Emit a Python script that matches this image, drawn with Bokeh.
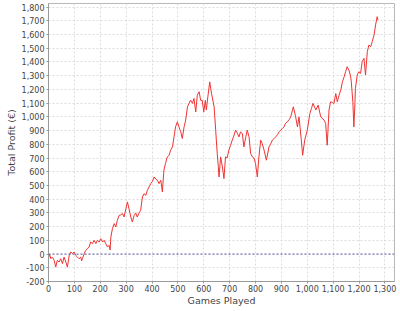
from bokeh.plotting import figure
from bokeh.models import Range1d, FixedTicker, NumeralTickFormatter, Span
from bokeh.embed import file_html
from bokeh.resources import INLINE

games = [0, 4, 9, 15, 22, 28, 34, 41, 47, 54, 60, 67, 73, 80, 86, 93, 99, 105, 112, 118,
         125, 128, 131, 138, 144, 150, 157, 163, 170, 176, 183, 189, 196, 202, 209, 215,
         221, 228, 234, 238, 241, 247, 254, 260, 266, 273, 279, 286, 292, 299, 305, 311,
         318, 324, 331, 337, 343, 350, 356, 363, 369, 376, 382, 389, 395, 402, 408, 415,
         421, 427, 434, 440, 446, 452, 459, 466, 472, 479, 485, 491, 498, 504, 511, 517,
         524, 530, 537, 543, 549, 556, 562, 569, 575, 582, 588, 594, 600, 606, 610, 616,
         623, 630, 640, 646, 652, 656, 659, 665, 672, 678, 684, 690, 697, 703, 710, 716,
         723, 730, 736, 742, 749, 755, 762, 768, 775, 781, 788, 794, 800, 807, 813, 820,
         826, 833, 842, 852, 858, 865, 871, 878, 885, 891, 897, 904, 910, 916, 923, 930,
         936, 946, 955, 962, 968, 977, 982, 990, 1000, 1010, 1016, 1022, 1033, 1042, 1052,
         1065, 1071, 1077, 1084, 1090, 1097, 1103, 1110, 1116, 1123, 1130, 1136, 1142,
         1148, 1154, 1161, 1167, 1170, 1176, 1180, 1183, 1186, 1193, 1199, 1206, 1212,
         1219, 1225, 1232, 1238, 1245, 1251, 1258, 1264, 1270, 1273]
profit = [-30, 0, -34, -22, -46, -95, -46, -58, -34, -70, -22, -58, -95, -10, 15, 3, 15, -10, -22, -34,
          -22, -50, -34, 3, 27, 39, 51, 88, 76, 100, 76, 100, 88, 112, 88, 100,
          76, 51, 63, 30, 124, 185, 222, 197, 246, 282, 285, 295, 270, 331, 380, 331,
          270, 234, 282, 300, 270, 300, 319, 416, 440, 428, 465, 490, 513, 530, 562, 545,
          538, 513, 538, 453, 611, 660, 708, 720, 757, 781, 854, 927, 964, 927, 891, 842,
          927, 976, 1073, 1098, 1122, 1098, 1134, 1036, 1158, 1183, 1120, 1120, 1036, 1120, 1050, 1150,
          1255, 1170, 1073, 903, 733, 640, 562, 708, 635, 550, 708, 700, 757, 790, 830, 860,
          903, 880, 854, 890, 878, 781, 850, 903, 854, 733, 708, 700, 660, 562, 708, 830,
          805, 757, 684, 781, 800, 830, 840, 854, 870, 891, 903, 915, 927, 952, 964, 980,
          1000, 1073, 1000, 927, 1000, 830, 720, 830, 903, 1025, 1060, 1098, 1050, 1085, 1000,
          976, 952, 793, 1050, 1110, 1105, 1097, 1170, 1110, 1158, 1200, 1256, 1290,
          1329, 1365, 1340, 1300, 1256, 1110, 927, 1050, 1207, 1305, 1329, 1317, 1402,
          1426, 1305, 1475, 1523, 1511, 1548, 1596, 1670, 1730, 1706]

x_ticks = list(range(0, 1301, 100))
y_ticks = list(range(-200, 1801, 100))

FONT = "DejaVu Sans"
TXT = "#444444"

p = figure(width=400, height=311, output_backend="svg", toolbar_location=None,
           x_range=Range1d(0, 1337), y_range=Range1d(-200, 1826),
           min_border_left=48, min_border_right=6, min_border_top=3, min_border_bottom=30)

p.background_fill_color = "white"
p.border_fill_color = "white"
p.outline_line_color = "#b8b8b8"
p.outline_line_width = 1

for ax in (p.xaxis[0], p.yaxis[0]):
    ax.major_label_text_font = FONT
    ax.major_label_text_font_size = "8px"
    ax.major_label_text_color = TXT
    ax.axis_label_text_font = FONT
    ax.axis_label_text_font_size = "9.5px"
    ax.axis_label_text_font_style = "normal"
    ax.axis_label_text_color = TXT
    ax.axis_line_color = "#999999"
    ax.major_tick_line_color = "#999999"
    ax.major_tick_out = 2
    ax.major_tick_in = 0
    ax.minor_tick_line_color = None
    ax.formatter = NumeralTickFormatter(format="0,0")
    ax.major_label_standoff = 2

p.xaxis[0].major_label_standoff = 1
p.xaxis[0].axis_label_standoff = 0
p.yaxis[0].axis_label_standoff = 2

p.xaxis[0].ticker = FixedTicker(ticks=x_ticks)
p.yaxis[0].ticker = FixedTicker(ticks=y_ticks)
p.xaxis[0].axis_label = "Games Played"
p.yaxis[0].axis_label = "Total Profit (€)"

for g in (p.xgrid[0], p.ygrid[0]):
    g.grid_line_color = "#dcdcdc"
    g.grid_line_dash = "2 2"
    g.grid_line_width = 1
p.xgrid[0].ticker = FixedTicker(ticks=x_ticks)
p.ygrid[0].ticker = FixedTicker(ticks=y_ticks)

zero = Span(location=0, dimension="width", line_color="#5a5aa8", line_dash="2 2", line_width=1)
p.add_layout(zero)

p.line(games, profit, line_color="#ee3333", line_width=1)

open("out.html", "w").write(file_html(p, INLINE))
